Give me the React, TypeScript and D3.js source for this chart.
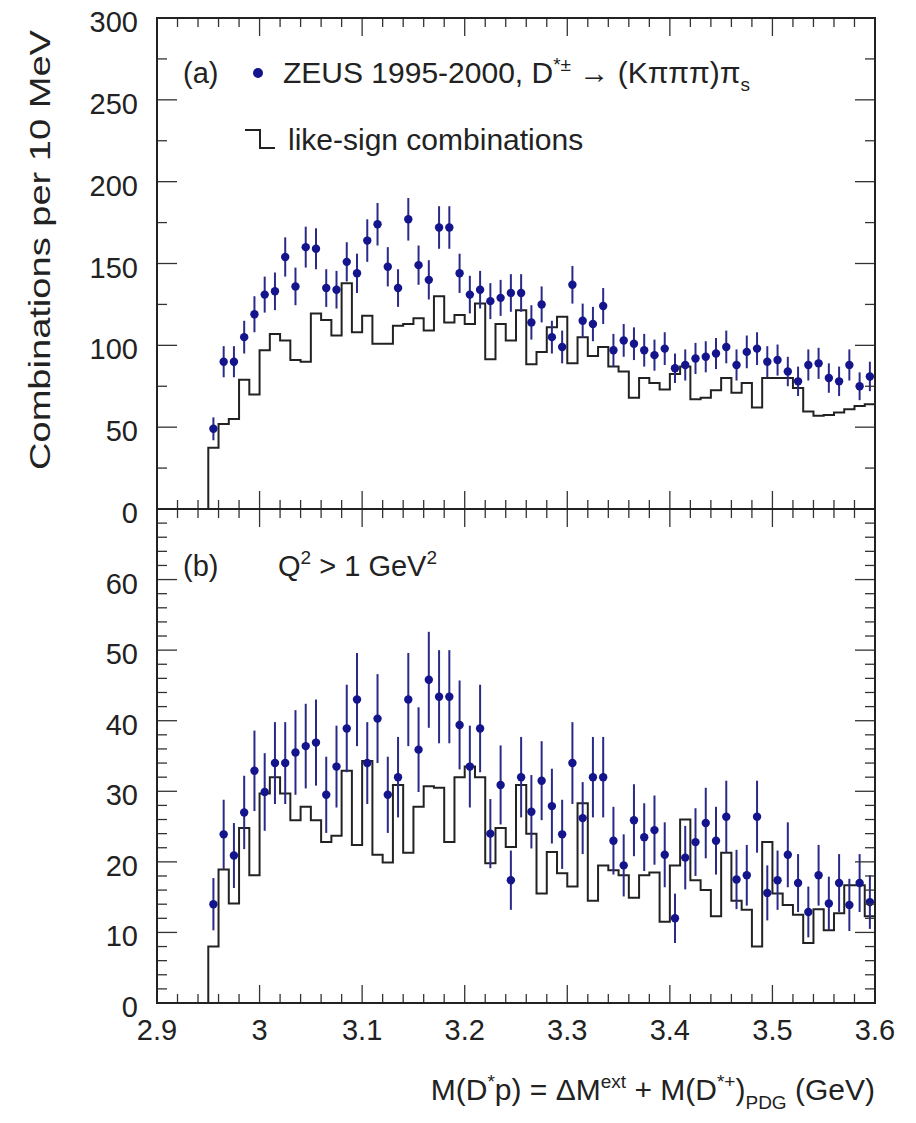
import React from "react";
import * as d3 from "d3";

// ---------- data ----------
const binLow = 2.95;
const binWidth = 0.01;

// panel (a): ZEUS data points (per 10 MeV bin, centres 2.955 ... 3.595)
const topValues = [
  49, 90, 90, 105, 119, 131, 133, 154, 136, 160, 159, 135, 134, 151, 144, 164,
  174, 148, 135, 177, 149, 140, 172, 172, 144, 131, 134, 127, 129, 132, 132, 114,
  125, 105, 99, 137, 115, 113, 124, 97, 103, 101, 97, 94, 98, 86, 88, 92,
  93, 95, 99, 88, 96, 98, 90, 91, 84, 78, 88, 89, 80, 78, 88, 75, 81,
];
const topErrors = [
  7, 9.5, 9.5, 10, 11, 11, 11.5, 12, 11.5, 12.5, 12.5, 11.5, 11.5, 12, 12, 13,
  13, 12, 11.5, 13, 12, 12, 13, 13, 12, 11.5, 11.5, 11, 11, 11.5, 11.5, 10.5,
  11, 10, 10, 11.5, 10.5, 10.5, 11, 10, 10, 10, 10, 9.5, 10, 9, 9.5, 9.5,
  9.5, 9.5, 10, 9.5, 10, 10, 9.5, 9.5, 9, 9, 9.5, 9.5, 9, 9, 9.5, 8.5, 9,
];
// panel (a): like-sign histogram (bins 2.95 ... 3.59)
const topLikeSign = [
  37.5, 52, 55, 79, 70, 97, 107, 103, 91, 90, 119.5, 115.5, 106, 138, 108, 118,
  101, 101, 112, 113, 116.5, 109, 130, 114, 118.5, 113, 125.5, 91.5, 113, 103, 121.5, 88.5,
  96, 111, 117.5, 89, 105, 93.5, 99, 87, 84, 68, 80, 77, 73, 82.5,
  87, 67, 68, 72.5, 80, 71, 77, 62, 80, 80, 80, 74, 59.5, 57, 57.5, 59, 61, 63, 64,
];

// panel (b): Q^2 > 1 GeV^2
const botValues = [
  14, 23.9, 20.9, 27, 32.9, 29.9, 34, 34, 35.5, 36.4, 36.9, 29.5, 33.5, 38.9, 43, 34,
  40.3, 29.5, 32, 43, 35.9, 45.8, 43.4, 43.4, 39.4, 33.5, 38.9, 24, 30.9, 17.4, 32, 27.1,
  31.5, 27.9, 23.9, 34, 26.2, 32, 32, 23, 19.5, 25.9, 23.5, 24.5, 21, 12, 20.6, 22.8,
  25.5, 23, 26.4, 17.5, 18.1, 26.4, 15.6, 17.4, 21, 17, 12.9, 18.1, 14.1, 17, 13.9, 17, 14.3,
];
const botErrors = [
  3.7, 4.9, 4.6, 5.2, 5.7, 5.5, 5.8, 5.8, 6, 6, 6.1, 5.4, 5.8, 6.2, 6.6, 5.8,
  6.3, 5.4, 5.7, 6.6, 6, 6.8, 6.6, 6.6, 6.3, 5.8, 6.2, 4.9, 5.6, 4.2, 5.7, 5.2,
  5.6, 5.3, 4.9, 5.8, 5.1, 5.7, 5.7, 4.8, 4.4, 5.1, 4.8, 4.9, 4.6, 3.5, 4.5, 4.8,
  5, 4.8, 5.1, 4.2, 4.3, 5.1, 3.9, 4.2, 4.6, 4.1, 3.6, 4.3, 3.8, 4.1, 3.7, 4.1, 3.8,
];
const botLikeSign = [
  8, 18.9, 14.1, 24.8, 18.1, 29.7, 32, 29.7, 25.9, 27.8, 25.9, 22.8, 23.7, 32.9, 22.4, 34.3,
  21, 19.9, 30.9, 21.3, 27.8, 30.7, 30.5, 22.8, 32, 33.5, 32, 19.8, 24.8, 22.1, 30.9, 24,
  15.5, 21.4, 18.4, 16.5, 28.3, 14.5, 19.5, 18.8, 18.1, 14.9, 18.1, 18.5, 11.5, 19.5, 26, 17.4,
  16, 12.3, 21.3, 14.5, 13.2, 8, 22.8, 15.5, 13.9, 12.5, 8.5, 13.3, 10.3, 12.7, 16.7, 16.7, 12.3,
];

const xMajorTicks = [2.9, 3.0, 3.1, 3.2, 3.3, 3.4, 3.5, 3.6];
const xTickLabels = ["2.9", "3", "3.1", "3.2", "3.3", "3.4", "3.5", "3.6"];
const topYTicks = [0, 50, 100, 150, 200, 250, 300];
const botYTicks = [0, 10, 20, 30, 40, 50, 60];

// ---------- layout ----------
const W = 916;
const H = 1123;
const L = 157;
const R = 875;
const T1 = 18;
const MID = 509;
const B2 = 1003;
const FONT = "'Liberation Sans', Arial, Helvetica, sans-serif";
const DOT = "#14148c";
const BAR = "#2a2a88";

const x = d3.scaleLinear().domain([2.9, 3.6]).range([L, R]);
const yTop = d3.scaleLinear().domain([0, 300]).range([MID, T1]);
const yBot = d3.scaleLinear().domain([0, 70]).range([B2, MID]);

const xMinor = d3.range(0, 36).map((i) => 2.9 + i * 0.02);

function histPath(vals: number[], y: d3.ScaleLinear<number, number>) {
  const p = d3.path();
  p.moveTo(x(binLow), y(0));
  vals.forEach((v, i) => {
    p.lineTo(x(binLow + i * binWidth), y(v));
    p.lineTo(x(binLow + (i + 1) * binWidth), y(v));
  });
  return p.toString();
}

function Panel({
  y,
  top,
  bottom,
  majorY,
  minorStep,
  vals,
  errs,
  hist,
}: {
  y: d3.ScaleLinear<number, number>;
  top: number;
  bottom: number;
  majorY: number[];
  minorStep: number;
  vals: number[];
  errs: number[];
  hist: number[];
}) {
  const [d0, d1] = y.domain();
  const minorY = d3.range(d0, d1 + 1e-6, minorStep);
  return (
    <g>
      {/* histogram */}
      <path d={histPath(hist, y)} fill="none" stroke="#222" strokeWidth={2} />
      {/* error bars */}
      {vals.map((v, i) => {
        const cx = x(binLow + (i + 0.5) * binWidth);
        return (
          <line
            key={"e" + i}
            x1={cx}
            x2={cx}
            y1={y(v - errs[i])}
            y2={y(v + errs[i])}
            stroke={BAR}
            strokeWidth={2}
          />
        );
      })}
      {vals.map((v, i) => (
        <circle
          key={"p" + i}
          cx={x(binLow + (i + 0.5) * binWidth)}
          cy={y(v)}
          r={4.2}
          fill={DOT}
        />
      ))}
      {/* x ticks bottom & top */}
      {xMinor.map((t, i) => {
        const isMajor = i % 5 === 0;
        const len = isMajor ? 18 : 9;
        return (
          <g key={"xt" + i}>
            <line x1={x(t)} x2={x(t)} y1={bottom} y2={bottom - len} stroke="#333" strokeWidth={1.3} />
            <line x1={x(t)} x2={x(t)} y1={top} y2={top + len} stroke="#333" strokeWidth={1.3} />
          </g>
        );
      })}
      {/* y ticks left & right */}
      {minorY.map((t, i) => {
        const isMajor = majorY.some((m) => Math.abs(m - t) < 1e-6);
        const len = isMajor ? 20 : 10;
        return (
          <g key={"yt" + i}>
            <line x1={L} x2={L + len} y1={y(t)} y2={y(t)} stroke="#333" strokeWidth={1.3} />
            <line x1={R} x2={R - len} y1={y(t)} y2={y(t)} stroke="#333" strokeWidth={1.3} />
          </g>
        );
      })}
      {/* y tick labels */}
      {majorY.map((t) => (
        <text
          key={"yl" + t}
          x={138}
          y={y(t) + 4}
          textAnchor="end"
          dominantBaseline="central"
          fontSize={29}
          fontFamily={FONT}
          fill="#222"
        >
          {t}
        </text>
      ))}
      {/* frame */}
      <rect x={L} y={top} width={R - L} height={bottom - top} fill="none" stroke="#222" strokeWidth={2} />
    </g>
  );
}

export default function App() {
  return (
    <svg
      width={W}
      height={H}
      viewBox={`0 0 ${W} ${H}`}
      style={{ position: "absolute", left: 0, top: 0, background: "#fff" }}
    >
      <rect x={0} y={0} width={W} height={H} fill="#fff" />
      <Panel
        y={yTop}
        top={T1}
        bottom={MID}
        majorY={topYTicks}
        minorStep={25}
        vals={topValues}
        errs={topErrors}
        hist={topLikeSign}
      />
      <Panel
        y={yBot}
        top={MID}
        bottom={B2}
        majorY={botYTicks}
        minorStep={2}
        vals={botValues}
        errs={botErrors}
        hist={botLikeSign}
      />

      {/* x tick labels */}
      {xMajorTicks.map((t, i) => (
        <text
          key={"xl" + i}
          x={x(t)}
          y={1040}
          textAnchor="middle"
          fontSize={29}
          fontFamily={FONT}
          fill="#222"
        >
          {xTickLabels[i]}
        </text>
      ))}

      {/* y title */}
      <text
        transform="translate(50,250) rotate(-90)"
        textAnchor="middle"
        fontSize={30}
        fontFamily={FONT}
        fill="#222"
        textLength={440}
        lengthAdjust="spacingAndGlyphs"
      >
        Combinations per 10 MeV
      </text>

      {/* x title */}
      <text x={875} y={1100} textAnchor="end" fontSize={30} fontFamily={FONT} fill="#222">
        M(D<tspan dy={-12} fontSize={19}>*</tspan>
        <tspan dy={12}>p) = ΔM</tspan>
        <tspan dy={-12} fontSize={19}>ext</tspan>
        <tspan dy={12}> + M(D</tspan>
        <tspan dy={-12} fontSize={19}>*+</tspan>
        <tspan dy={12}>)</tspan>
        <tspan dy={9} fontSize={19}>PDG</tspan>
        <tspan dy={-9}> (GeV)</tspan>
      </text>

      {/* legend panel a */}
      <text x={183} y={83} fontSize={29} fontFamily={FONT} fill="#222">(a)</text>
      <circle cx={258} cy={73} r={5} fill={DOT} />
      <text x={283} y={83} fontSize={30} fontFamily={FONT} fill="#222">
        ZEUS 1995-2000, D<tspan dy={-12} fontSize={19}>*±</tspan>
        <tspan dy={12}> → (Kπππ)π</tspan>
        <tspan dy={8} fontSize={19}>s</tspan>
      </text>
      <path d="M245,130 H260 V148 H275" fill="none" stroke="#222" strokeWidth={2} />
      <text x={288} y={150} fontSize={30} fontFamily={FONT} fill="#222">
        like-sign combinations
      </text>

      {/* legend panel b */}
      <text x={183} y={576} fontSize={29} fontFamily={FONT} fill="#222">(b)</text>
      <text x={278} y={576} fontSize={29} fontFamily={FONT} fill="#222">
        Q<tspan dy={-12} fontSize={19}>2</tspan>
        <tspan dy={12}> &gt; 1 GeV</tspan>
        <tspan dy={-12} fontSize={19}>2</tspan>
      </text>
    </svg>
  );
}
